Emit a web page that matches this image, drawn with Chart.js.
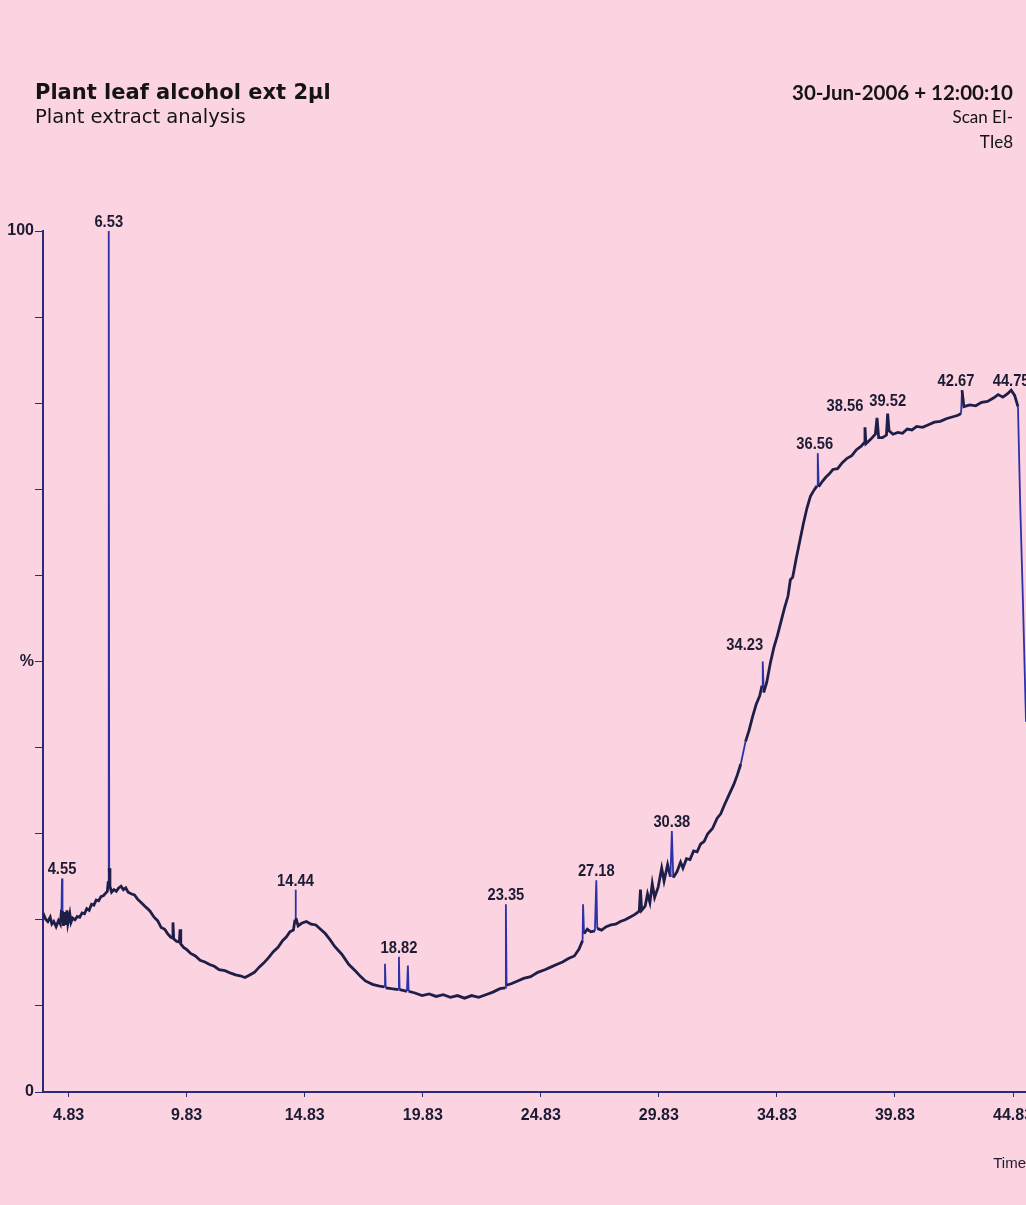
<!DOCTYPE html>
<html>
<head>
<meta charset="utf-8">
<title>Plant leaf alcohol ext 2µl</title>
<script src="https://cdn.jsdelivr.net/npm/chart.js@4.4.1/dist/chart.umd.min.js"></script>
<style>
  html, body { margin: 0; padding: 0; background: #fcd3e0; overflow: hidden; }
  #wrap { position: relative; width: 1026px; height: 1205px; overflow: hidden; }
  canvas { position: absolute; left: 0; top: 0; }
  .hd { position: absolute; color: #141414; white-space: nowrap; }
  .l { left: 35px; }
  .r { right: 13px; text-align: right; }
  .tl { font-family: "DejaVu Sans", sans-serif; font-weight: 700; font-size: 21px; line-height: 24px; }
  .sl { font-family: "DejaVu Sans", sans-serif; font-weight: 400; font-size: 19.6px; line-height: 22px; }
  .tr { font-family: Lato, sans-serif; font-weight: 700; font-size: 20.5px; line-height: 24px; }
  .sr { font-family: Lato, sans-serif; font-weight: 400; font-size: 17px; line-height: 22px; }
</style>
</head>
<body>
<div id="wrap">
  <canvas id="tic" width="1026" height="1205"></canvas>
  <div class="hd l tl" style="top:80px">Plant leaf alcohol ext 2µl</div>
  <div class="hd l sl" style="top:106px">Plant extract analysis</div>
  <div class="hd r tr" style="top:80px">30-Jun-2006 + 12:00:10</div>
  <div class="hd r sr" style="top:106px">Scan EI-</div>
  <div class="hd r sr" style="top:131px">TIe8</div>
</div>
<script>
// Retention time (min) of each scan point on the trace
const retentionTime = [
  3.75, 3.85, 3.95, 4.05, 4.12, 4.20, 4.30, 4.40, 4.48, 4.53, 4.55, 4.57, 4.61, 4.66, 4.70, 4.76, 4.80, 4.88, 4.93,
  5.00, 5.10, 5.20, 5.30, 5.40, 5.50, 5.60, 5.70, 5.80, 5.90, 6.00, 6.10, 6.20, 6.30, 6.40, 6.47, 6.51, 6.53, 6.55,
  6.58, 6.65, 6.75, 6.85, 6.95, 7.05, 7.15, 7.25, 7.35, 7.50, 7.62, 7.75, 7.90, 8.05, 8.17, 8.28, 8.45, 8.60, 8.75,
  8.90, 9.02, 9.15, 9.22, 9.25, 9.28, 9.40, 9.52, 9.55, 9.58, 9.70, 9.85, 10.00, 10.20, 10.40, 10.60, 10.80, 11.00,
  11.20, 11.45, 11.70, 11.90, 12.10, 12.30, 12.50, 12.70, 12.90, 13.10, 13.30, 13.50, 13.70, 13.90, 14.05, 14.20,
  14.35, 14.42, 14.44, 14.46, 14.55, 14.70, 14.90, 15.10, 15.30, 15.50, 15.70, 15.90, 16.10, 16.40, 16.70, 17.00,
  17.20, 17.40, 17.70, 18.00, 18.20, 18.23, 18.26, 18.50, 18.79, 18.82, 18.85, 19.00, 19.16, 19.20, 19.23, 19.50,
  19.80, 20.10, 20.40, 20.70, 21.00, 21.30, 21.60, 21.90, 22.20, 22.50, 22.80, 23.10, 23.32, 23.35, 23.38, 23.60,
  23.85, 24.10, 24.40, 24.70, 25.00, 25.25, 25.50, 25.75, 26.00, 26.25, 26.45, 26.60, 26.62, 26.66, 26.80, 26.95,
  27.12, 27.18, 27.22, 27.40, 27.60, 27.80, 28.00, 28.20, 28.40, 28.60, 28.80, 29.00, 29.05, 29.10, 29.25, 29.35,
  29.45, 29.55, 29.65, 29.80, 29.95, 30.05, 30.20, 30.32, 30.38, 30.44, 30.60, 30.75, 30.85, 31.00, 31.15, 31.30,
  31.45, 31.60, 31.75, 31.90, 32.10, 32.30, 32.45, 32.60, 32.80, 33.00, 33.15, 33.30, 33.50, 33.65, 33.80, 33.95,
  34.10, 34.20, 34.23, 34.27, 34.40, 34.55, 34.70, 34.85, 35.00, 35.15, 35.30, 35.40, 35.50, 35.65, 35.80, 35.95,
  36.10, 36.25, 36.40, 36.53, 36.56, 36.60, 36.75, 36.90, 37.05, 37.20, 37.40, 37.60, 37.80, 38.00, 38.20, 38.40,
  38.52, 38.56, 38.60, 38.80, 39.00, 39.07, 39.14, 39.30, 39.47, 39.52, 39.58, 39.75, 39.95, 40.15, 40.35, 40.55,
  40.75, 41.00, 41.25, 41.50, 41.75, 42.00, 42.25, 42.50, 42.63, 42.67, 42.75, 43.00, 43.25, 43.50, 43.75, 44.00,
  44.20, 44.40, 44.60, 44.75, 44.90, 45.04, 45.13, 45.25, 45.38, 45.55
];

// Relative ion current (%) at each retention time
const relIntensity = [
  20.8, 20.1, 19.8, 20.3, 19.5, 19.8, 19.2, 19.9, 19.5, 21.2, 24.8, 21.0, 19.3, 20.9, 19.4, 21.1, 19.6, 20.7, 19.7,
  20.2, 20.0, 20.4, 20.3, 20.8, 20.7, 21.3, 21.1, 21.8, 21.7, 22.3, 22.2, 22.7, 22.8, 23.1, 23.3, 24.5, 100, 26.0,
  23.9, 23.2, 23.5, 23.3, 23.7, 23.9, 23.5, 23.7, 23.2, 23.0, 22.9, 22.4, 22.0, 21.6, 21.3, 21.0, 20.3, 19.9, 19.1,
  18.9, 18.4, 18.0, 17.9, 19.7, 17.8, 17.5, 17.4, 18.9, 17.2, 16.8, 16.5, 16.1, 15.8, 15.3, 15.1, 14.8, 14.6,
  14.2, 14.1, 13.8, 13.6, 13.5, 13.3, 13.6, 13.9, 14.5, 15.0, 15.6, 16.3, 16.8, 17.6, 18.0, 18.6,
  18.8, 20.0, 23.5, 20.2, 19.3, 19.6, 19.8, 19.5, 19.4, 18.9, 18.4, 17.7, 16.9, 16.0, 14.8, 14.0,
  13.4, 12.9, 12.5, 12.3, 12.2, 14.9, 12.1, 12.0, 11.9, 15.7, 11.9, 11.8, 11.7, 14.7, 11.7, 11.5,
  11.2, 11.4, 11.1, 11.3, 11.0, 11.2, 10.9, 11.2, 11.0, 11.3, 11.6, 12.0, 12.1, 21.8, 12.4, 12.6,
  12.9, 13.2, 13.4, 13.9, 14.2, 14.5, 14.8, 15.1, 15.5, 15.8, 16.6, 17.6, 21.8, 18.4, 18.9, 18.6,
  18.7, 24.6, 19.0, 18.8, 19.2, 19.4, 19.5, 19.8, 20.0, 20.3, 20.6, 21.0, 23.5, 21.1, 21.6, 23.0,
  22.0, 24.2, 22.6, 23.8, 26.0, 24.5, 26.4, 25.0, 30.3, 24.9, 25.6, 26.7, 26.0, 27.1, 27.0, 28.0,
  27.9, 28.8, 29.1, 30.0, 30.6, 31.8, 32.3, 33.3, 34.5, 35.7, 36.8, 38.1, 40.7, 42.0, 43.6, 45.0,
  46.0, 47.2, 50.0, 46.4, 47.6, 49.8, 51.6, 53.0, 54.6, 56.2, 57.6, 59.5, 59.8, 62.0, 64.0, 66.0,
  67.8, 69.2, 69.9, 70.4, 74.2, 70.3, 70.9, 71.4, 71.8, 72.3, 72.4, 73.1, 73.6, 73.9, 74.6, 75.0,
  75.4, 77.2, 75.3, 75.8, 76.4, 78.3, 76.0, 76.0, 76.3, 78.8, 76.8, 76.4, 76.6, 76.5, 77.0, 76.9,
  77.3, 77.2, 77.5, 77.8, 77.9, 78.2, 78.4, 78.6, 78.8, 81.5, 79.6, 79.8, 79.7, 80.1, 80.2, 80.6,
  81.0, 80.7, 81.1, 81.5, 80.9, 79.6, 68.7, 57.0, 43.0, 25.0
];

// Peaks annotated with their retention time
const labelledPeaks = [4.55, 6.53, 14.44, 18.82, 23.35, 27.18, 30.38, 34.23, 36.56, 38.56, 39.52, 42.67, 44.75];

// Time axis tick values and intensity axis labels
const timeTicks = [4.83, 9.83, 14.83, 19.83, 24.83, 29.83, 34.83, 39.83, 44.83];
const intensityLabels = { 0: '0', 50: '%', 100: '100' };

const traceData = retentionTime.map((t, i) => ({ x: t, y: relIntensity[i] }));

const inkFont = "'Liberation Sans', Arial, sans-serif";
const ink = '#1b1b33';
const axisBlue = '#2a2b78';
const traceDark = '#1e1f48';
const spikeBlue = '#2c31a8';

// Small nudges so crowded peak labels do not collide
const labelNudge = { 34.23: [-18, -8], 38.56: [-20, -12], 39.52: [0, -4], 42.67: [-6, 0], 36.56: [-3, 0] };

const peakLabels = {
  id: 'peakLabels',
  afterDatasetsDraw(chart) {
    const { ctx, scales } = chart;
    labelledPeaks.forEach(t => {
      const i = retentionTime.indexOf(t);
      if (i < 0) return;
      const px = scales.x.getPixelForValue(t);
      const py = scales.y.getPixelForValue(relIntensity[i]);
      const n = labelNudge[t] || [0, 0];
      ctx.save();
      ctx.font = 'bold 16px ' + inkFont;
      ctx.fillStyle = ink;
      ctx.textAlign = 'center';
      ctx.textBaseline = 'alphabetic';
      ctx.translate(px + n[0], py - 4 + n[1]);
      ctx.scale(0.92, 1);
      ctx.fillText(t.toFixed(2), 0, 0);
      ctx.restore();
    });
  }
};

const steep = c => Math.abs(c.p1.parsed.y - c.p0.parsed.y) > 2.6;

new Chart(document.getElementById('tic'), {
  type: 'line',
  data: {
    datasets: [{
      data: traceData,
      borderColor: traceDark,
      borderWidth: 2.8,
      segment: {
        borderColor: c => steep(c) ? spikeBlue : traceDark,
        borderWidth: c => steep(c) ? 1.8 : 2.8
      },
      pointRadius: 0,
      tension: 0,
      fill: false
    }]
  },
  options: {
    responsive: false,
    animation: false,
    layout: { padding: { top: 231, left: 0, right: 0, bottom: 0 }, autoPadding: false },
    plugins: { legend: { display: false }, tooltip: { enabled: false }, title: { display: false } },
    scales: {
      x: {
        type: 'linear',
        min: 3.745,
        max: 45.38,
        afterBuildTicks(scale) { scale.ticks = timeTicks.map(v => ({ value: v })); },
        afterFit(scale) {
          scale.height = 113;
          scale.paddingLeft = 0;
          scale.paddingRight = 0;
        },
        ticks: {
          callback: v => Number(v).toFixed(2),
          font: { family: inkFont, size: 16, weight: 'bold' },
          color: ink,
          padding: 9,
          maxRotation: 0,
          autoSkip: false
        },
        grid: { drawOnChartArea: false, tickLength: 5, tickColor: axisBlue, tickWidth: 1 },
        border: { color: axisBlue, width: 2 },
        title: {
          display: true,
          text: 'Time',
          align: 'end',
          color: ink,
          font: { family: inkFont, size: 15 },
          padding: { top: 0, bottom: 32 }
        }
      },
      y: {
        min: 0,
        max: 100,
        afterBuildTicks(scale) {
          const t = [];
          for (let v = 0; v <= 100; v += 10) t.push({ value: v });
          scale.ticks = t;
        },
        afterFit(scale) {
          scale.width = 43;
          scale.paddingTop = 0;
          scale.paddingBottom = 0;
        },
        ticks: {
          callback: v => intensityLabels[v] || '',
          font: { family: inkFont, size: 16, weight: 'bold' },
          color: ink,
          padding: 1,
          autoSkip: false
        },
        grid: { drawOnChartArea: false, tickLength: 8, tickColor: axisBlue, tickWidth: 1 },
        border: { color: axisBlue, width: 2 }
      }
    }
  },
  plugins: [peakLabels]
});
</script>
</body>
</html>
